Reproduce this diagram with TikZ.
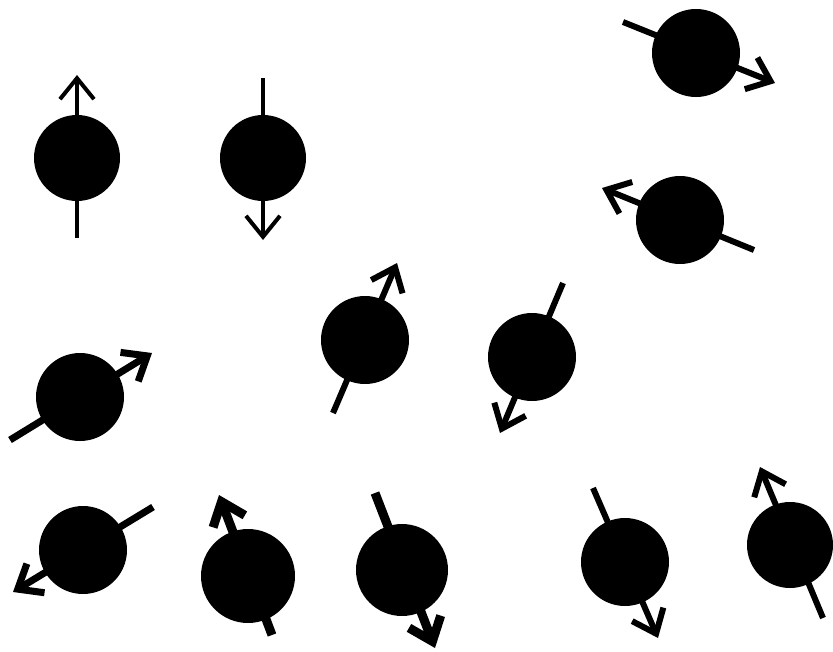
\documentclass[tikz,border=0pt]{standalone}
\usetikzlibrary{arrows.meta}
\begin{document}
\begin{tikzpicture}[x=1pt,y=-1pt,
  ball/.style={circle, fill=black, inner sep=0pt, minimum size=#1},
  spinarrow/.style={line width=#1, line join=miter,
    -{Straight Barb[length=21pt,width=34pt]}},
]
\useasboundingbox (0,0) rectangle (833,651);

% spin 1
\node[ball=86pt] (b1) at (77,158) {};
\coordinate (t1) at (77,238); \coordinate (h1) at (77,75);
\draw[spinarrow=4pt] (t1) -- (h1);
% spin 2
\node[ball=86pt] (b2) at (263,158) {};
\coordinate (t2) at (263,78); \coordinate (h2) at (263,240);
\draw[spinarrow=4pt] (t2) -- (h2);
% spin 3
\node[ball=88pt] (b3) at (696,53) {};
\coordinate (t3) at (623,22); \coordinate (h3) at (775,83);
\draw[spinarrow=6pt] (t3) -- (h3);
% spin 4
\node[ball=88pt] (b4) at (680,220) {};
\coordinate (t4) at (754,250); \coordinate (h4) at (602,188);
\draw[spinarrow=6pt] (t4) -- (h4);
% spin 5
\node[ball=88pt] (b5) at (365,340) {};
\coordinate (t5) at (333,413); \coordinate (h5) at (397,263);
\draw[spinarrow=6pt] (t5) -- (h5);
% spin 6
\node[ball=88pt] (b6) at (532,357) {};
\coordinate (t6) at (563,283); \coordinate (h6) at (500,433);
\draw[spinarrow=6pt] (t6) -- (h6);
% spin 7
\node[ball=88pt] (b7) at (80,397) {};
\coordinate (t7) at (10,440); \coordinate (h7) at (152,353);
\draw[spinarrow=7pt] (t7) -- (h7);
% spin 8
\node[ball=88pt] (b8) at (83,550) {};
\coordinate (t8) at (153,507); \coordinate (h8) at (13,592);
\draw[spinarrow=7pt] (t8) -- (h8);
% spin 9
\node[ball=94pt] (b9) at (248,576) {};
\coordinate (t9) at (272,635); \coordinate (h9) at (219,495);
\draw[spinarrow=9pt] (t9) -- (h9);
% spin 10
\node[ball=92pt] (b10) at (402,570) {};
\coordinate (t10) at (375,493); \coordinate (h10) at (435,648);
\draw[spinarrow=9pt] (t10) -- (h10);
% spin 11
\node[ball=88pt] (b11) at (625,562) {};
\coordinate (t11) at (593,488); \coordinate (h11) at (658,638);
\draw[spinarrow=6pt] (t11) -- (h11);
% spin 12
\node[ball=86pt] (b12) at (790,545) {};
\coordinate (t12) at (823,618); \coordinate (h12) at (760,467);
\draw[spinarrow=6pt] (t12) -- (h12);
\end{tikzpicture}
\end{document}
